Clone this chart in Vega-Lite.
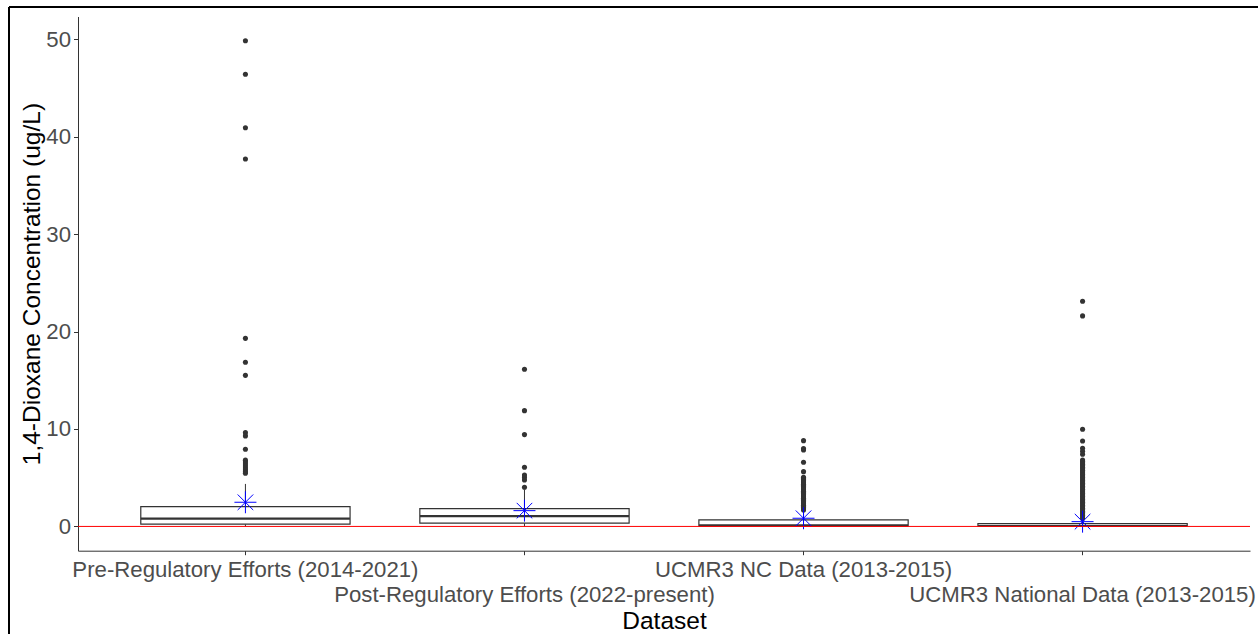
{
  "$schema": "https://vega.github.io/schema/vega-lite/v6.json",
  "width": 1249,
  "height": 627,
  "autosize": {"type": "none"},
  "padding": {"left": 9, "top": 7, "right": 1, "bottom": 0},
  "background": "white",
  "config": {
    "view": {"stroke": "black", "strokeWidth": 2, "strokeDash": [1249, 1876, 627, 0]},
    "font": "Liberation Sans"
  },
  "datasets": {
    "boxes": [
      {"dataset": "Pre-Regulatory Efforts (2014-2021)", "lower": 0.0, "q1": 0.23, "median": 0.80, "q3": 2.03, "upper": 4.36, "mean": 2.48},
      {"dataset": "Post-Regulatory Efforts (2022-present)", "lower": 0.03, "q1": 0.33, "median": 1.06, "q3": 1.83, "upper": 3.8, "mean": 1.62},
      {"dataset": "UCMR3 NC Data (2013-2015)", "lower": 0.0, "q1": 0.05, "median": 0.1, "q3": 0.67, "upper": 1.6, "mean": 0.84},
      {"dataset": "UCMR3 National Data (2013-2015)", "lower": 0.0, "q1": 0.02, "median": 0.07, "q3": 0.3, "upper": 0.75, "mean": 0.49}
    ],
    "outliers": [
      {"dataset": "Pre-Regulatory Efforts (2014-2021)", "value": 49.83},
      {"dataset": "Pre-Regulatory Efforts (2014-2021)", "value": 46.4},
      {"dataset": "Pre-Regulatory Efforts (2014-2021)", "value": 40.9},
      {"dataset": "Pre-Regulatory Efforts (2014-2021)", "value": 37.7},
      {"dataset": "Pre-Regulatory Efforts (2014-2021)", "value": 19.3},
      {"dataset": "Pre-Regulatory Efforts (2014-2021)", "value": 16.85},
      {"dataset": "Pre-Regulatory Efforts (2014-2021)", "value": 15.5},
      {"dataset": "Pre-Regulatory Efforts (2014-2021)", "value": 9.62},
      {"dataset": "Pre-Regulatory Efforts (2014-2021)", "value": 9.29},
      {"dataset": "Pre-Regulatory Efforts (2014-2021)", "value": 7.92},
      {"dataset": "Pre-Regulatory Efforts (2014-2021)", "value": 6.8},
      {"dataset": "Pre-Regulatory Efforts (2014-2021)", "value": 6.6},
      {"dataset": "Pre-Regulatory Efforts (2014-2021)", "value": 6.4},
      {"dataset": "Pre-Regulatory Efforts (2014-2021)", "value": 6.2},
      {"dataset": "Pre-Regulatory Efforts (2014-2021)", "value": 6.0},
      {"dataset": "Pre-Regulatory Efforts (2014-2021)", "value": 5.8},
      {"dataset": "Pre-Regulatory Efforts (2014-2021)", "value": 5.6},
      {"dataset": "Pre-Regulatory Efforts (2014-2021)", "value": 5.46},
      {"dataset": "Post-Regulatory Efforts (2022-present)", "value": 16.13},
      {"dataset": "Post-Regulatory Efforts (2022-present)", "value": 11.88},
      {"dataset": "Post-Regulatory Efforts (2022-present)", "value": 9.42},
      {"dataset": "Post-Regulatory Efforts (2022-present)", "value": 6.07},
      {"dataset": "Post-Regulatory Efforts (2022-present)", "value": 5.28},
      {"dataset": "Post-Regulatory Efforts (2022-present)", "value": 5.03},
      {"dataset": "Post-Regulatory Efforts (2022-present)", "value": 4.77},
      {"dataset": "Post-Regulatory Efforts (2022-present)", "value": 4.02},
      {"dataset": "UCMR3 NC Data (2013-2015)", "value": 8.8},
      {"dataset": "UCMR3 NC Data (2013-2015)", "value": 8.0},
      {"dataset": "UCMR3 NC Data (2013-2015)", "value": 7.85},
      {"dataset": "UCMR3 NC Data (2013-2015)", "value": 6.59},
      {"dataset": "UCMR3 NC Data (2013-2015)", "value": 5.62},
      {"dataset": "UCMR3 NC Data (2013-2015)", "value": 5.05},
      {"dataset": "UCMR3 NC Data (2013-2015)", "value": 4.93},
      {"dataset": "UCMR3 NC Data (2013-2015)", "value": 4.81},
      {"dataset": "UCMR3 NC Data (2013-2015)", "value": 4.69},
      {"dataset": "UCMR3 NC Data (2013-2015)", "value": 4.57},
      {"dataset": "UCMR3 NC Data (2013-2015)", "value": 4.45},
      {"dataset": "UCMR3 NC Data (2013-2015)", "value": 4.33},
      {"dataset": "UCMR3 NC Data (2013-2015)", "value": 4.21},
      {"dataset": "UCMR3 NC Data (2013-2015)", "value": 4.09},
      {"dataset": "UCMR3 NC Data (2013-2015)", "value": 3.97},
      {"dataset": "UCMR3 NC Data (2013-2015)", "value": 3.85},
      {"dataset": "UCMR3 NC Data (2013-2015)", "value": 3.73},
      {"dataset": "UCMR3 NC Data (2013-2015)", "value": 3.61},
      {"dataset": "UCMR3 NC Data (2013-2015)", "value": 3.49},
      {"dataset": "UCMR3 NC Data (2013-2015)", "value": 3.37},
      {"dataset": "UCMR3 NC Data (2013-2015)", "value": 3.25},
      {"dataset": "UCMR3 NC Data (2013-2015)", "value": 3.13},
      {"dataset": "UCMR3 NC Data (2013-2015)", "value": 3.01},
      {"dataset": "UCMR3 NC Data (2013-2015)", "value": 2.89},
      {"dataset": "UCMR3 NC Data (2013-2015)", "value": 2.77},
      {"dataset": "UCMR3 NC Data (2013-2015)", "value": 2.65},
      {"dataset": "UCMR3 NC Data (2013-2015)", "value": 2.53},
      {"dataset": "UCMR3 NC Data (2013-2015)", "value": 2.41},
      {"dataset": "UCMR3 NC Data (2013-2015)", "value": 2.29},
      {"dataset": "UCMR3 NC Data (2013-2015)", "value": 2.17},
      {"dataset": "UCMR3 NC Data (2013-2015)", "value": 2.05},
      {"dataset": "UCMR3 NC Data (2013-2015)", "value": 1.93},
      {"dataset": "UCMR3 NC Data (2013-2015)", "value": 1.81},
      {"dataset": "UCMR3 NC Data (2013-2015)", "value": 1.69},
      {"dataset": "UCMR3 National Data (2013-2015)", "value": 23.1},
      {"dataset": "UCMR3 National Data (2013-2015)", "value": 21.6},
      {"dataset": "UCMR3 National Data (2013-2015)", "value": 9.97},
      {"dataset": "UCMR3 National Data (2013-2015)", "value": 8.77},
      {"dataset": "UCMR3 National Data (2013-2015)", "value": 8.02},
      {"dataset": "UCMR3 National Data (2013-2015)", "value": 7.72},
      {"dataset": "UCMR3 National Data (2013-2015)", "value": 7.41},
      {"dataset": "UCMR3 National Data (2013-2015)", "value": 6.82},
      {"dataset": "UCMR3 National Data (2013-2015)", "value": 6.67},
      {"dataset": "UCMR3 National Data (2013-2015)", "value": 6.52},
      {"dataset": "UCMR3 National Data (2013-2015)", "value": 6.37},
      {"dataset": "UCMR3 National Data (2013-2015)", "value": 6.22},
      {"dataset": "UCMR3 National Data (2013-2015)", "value": 6.07},
      {"dataset": "UCMR3 National Data (2013-2015)", "value": 5.92},
      {"dataset": "UCMR3 National Data (2013-2015)", "value": 5.77},
      {"dataset": "UCMR3 National Data (2013-2015)", "value": 5.62},
      {"dataset": "UCMR3 National Data (2013-2015)", "value": 5.47},
      {"dataset": "UCMR3 National Data (2013-2015)", "value": 5.32},
      {"dataset": "UCMR3 National Data (2013-2015)", "value": 5.17},
      {"dataset": "UCMR3 National Data (2013-2015)", "value": 5.02},
      {"dataset": "UCMR3 National Data (2013-2015)", "value": 4.87},
      {"dataset": "UCMR3 National Data (2013-2015)", "value": 4.72},
      {"dataset": "UCMR3 National Data (2013-2015)", "value": 4.57},
      {"dataset": "UCMR3 National Data (2013-2015)", "value": 4.42},
      {"dataset": "UCMR3 National Data (2013-2015)", "value": 4.27},
      {"dataset": "UCMR3 National Data (2013-2015)", "value": 4.12},
      {"dataset": "UCMR3 National Data (2013-2015)", "value": 3.97},
      {"dataset": "UCMR3 National Data (2013-2015)", "value": 3.82},
      {"dataset": "UCMR3 National Data (2013-2015)", "value": 3.67},
      {"dataset": "UCMR3 National Data (2013-2015)", "value": 3.52},
      {"dataset": "UCMR3 National Data (2013-2015)", "value": 3.37},
      {"dataset": "UCMR3 National Data (2013-2015)", "value": 3.22},
      {"dataset": "UCMR3 National Data (2013-2015)", "value": 3.07},
      {"dataset": "UCMR3 National Data (2013-2015)", "value": 2.92},
      {"dataset": "UCMR3 National Data (2013-2015)", "value": 2.77},
      {"dataset": "UCMR3 National Data (2013-2015)", "value": 2.62},
      {"dataset": "UCMR3 National Data (2013-2015)", "value": 2.47},
      {"dataset": "UCMR3 National Data (2013-2015)", "value": 2.32},
      {"dataset": "UCMR3 National Data (2013-2015)", "value": 2.17},
      {"dataset": "UCMR3 National Data (2013-2015)", "value": 2.02},
      {"dataset": "UCMR3 National Data (2013-2015)", "value": 1.87},
      {"dataset": "UCMR3 National Data (2013-2015)", "value": 1.72},
      {"dataset": "UCMR3 National Data (2013-2015)", "value": 1.57},
      {"dataset": "UCMR3 National Data (2013-2015)", "value": 1.42},
      {"dataset": "UCMR3 National Data (2013-2015)", "value": 1.27},
      {"dataset": "UCMR3 National Data (2013-2015)", "value": 1.12},
      {"dataset": "UCMR3 National Data (2013-2015)", "value": 0.97},
      {"dataset": "UCMR3 National Data (2013-2015)", "value": 0.82}
    ],
    "reference": [{"threshold": 0}]
  },
  "layer": [
    {
      "encoding": {
        "x": {
          "field": "dataset",
          "type": "nominal",
          "sort": null,
          "scale": {
            "domain": ["Pre-Regulatory Efforts (2014-2021)", "Post-Regulatory Efforts (2022-present)", "UCMR3 NC Data (2013-2015)", "UCMR3 National Data (2013-2015)"],
            "range": [69, 1241],
            "paddingInner": 0,
            "paddingOuter": 0.1
          },
          "axis": {
            "title": "Dataset",
            "titleFontSize": 24.5,
            "titleColor": "black",
            "titleFontWeight": "normal",
            "titlePadding": 4,
            "labelFontSize": 22.2,
            "labelColor": "#4d4d4d",
            "labelLimit": 1000,
            "labelPadding": 4,
            "labelLineHeight": 24.5,
            "labelAngle": 0,
            "labelOverlap": false,
            "labelExpr": "indexof(['Post-Regulatory Efforts (2022-present)', 'UCMR3 National Data (2013-2015)'], datum.value) >= 0 ? ['', datum.label] : datum.label",
            "tickSize": 4,
            "tickColor": "#333333",
            "tickWidth": 1,
            "domainColor": "#333333",
            "domainWidth": 1,
            "grid": false,
            "offset": -83.3
          }
        }
      },
      "layer": [
        {
          "data": {"name": "boxes"},
          "mark": {"type": "rule", "color": "#333333", "strokeWidth": 1},
          "encoding": {
            "y": {
              "field": "q3",
              "type": "quantitative",
              "title": "1,4-Dioxane Concentration (ug/L)",
              "scale": {"domain": [-2.49, 52.32], "range": [543.7, 9.5], "nice": false, "zero": false},
              "axis": {
                "values": [0, 10, 20, 30, 40, 50],
                "titleFontSize": 24.5,
                "titleColor": "black",
                "titleFontWeight": "normal",
                "titlePadding": 1,
                "labelFontSize": 22.2,
                "labelColor": "#4d4d4d",
                "labelPadding": 3,
                "tickSize": 4.5,
                "tickColor": "#333333",
                "tickWidth": 1,
                "domainColor": "#333333",
                "domainWidth": 1,
                "grid": false,
                "offset": -69
              }
            },
            "y2": {"field": "upper"}
          }
        },
        {
          "data": {"name": "boxes"},
          "mark": {"type": "rule", "color": "#333333", "strokeWidth": 1},
          "encoding": {
            "y": {"field": "lower", "type": "quantitative", "title": "1,4-Dioxane Concentration (ug/L)"},
            "y2": {"field": "q1"}
          }
        },
        {
          "data": {"name": "boxes"},
          "mark": {"type": "bar", "width": {"band": 0.75}, "fill": "white", "stroke": "#333333", "strokeWidth": 1.2},
          "encoding": {
            "y": {"field": "q1", "type": "quantitative", "title": "1,4-Dioxane Concentration (ug/L)"},
            "y2": {"field": "q3"}
          }
        },
        {
          "data": {"name": "boxes"},
          "mark": {"type": "tick", "color": "#333333", "thickness": 2.2, "size": 209, "opacity": 1},
          "encoding": {
            "y": {"field": "median", "type": "quantitative", "title": "1,4-Dioxane Concentration (ug/L)"}
          }
        },
        {
          "data": {"name": "outliers"},
          "mark": {"type": "circle", "color": "#333333", "opacity": 1, "size": 26},
          "encoding": {
            "y": {"field": "value", "type": "quantitative", "title": "1,4-Dioxane Concentration (ug/L)"}
          }
        },
        {
          "data": {"name": "boxes"},
          "mark": {
            "type": "point",
            "shape": "M-1,0L1,0M0,-1L0,1M-0.707,-0.707L0.707,0.707M-0.707,0.707L0.707,-0.707",
            "filled": false,
            "stroke": "#0000ff",
            "strokeWidth": 1,
            "opacity": 1,
            "size": 484
          },
          "encoding": {
            "y": {"field": "mean", "type": "quantitative", "title": "1,4-Dioxane Concentration (ug/L)"}
          }
        }
      ]
    },
    {
      "data": {"name": "reference"},
      "mark": {"type": "rule", "color": "#ff0000", "strokeWidth": 1},
      "encoding": {
        "x": {"datum": 0, "type": "quantitative", "scale": {"domain": [0, 1], "range": [69, 1241]}, "axis": null},
        "x2": {"datum": 1},
        "y": {"field": "threshold", "type": "quantitative", "title": "1,4-Dioxane Concentration (ug/L)"}
      }
    }
  ],
  "resolve": {"scale": {"x": "independent"}, "axis": {"x": "independent"}}
}
